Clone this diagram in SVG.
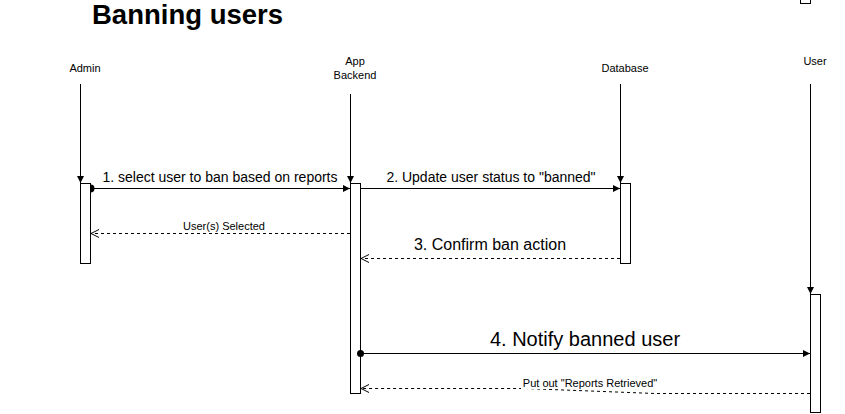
<svg xmlns="http://www.w3.org/2000/svg" width="845" height="414" viewBox="0 0 845 414">
<style>
text{font-family:"Liberation Sans",Arial,sans-serif;fill:#000}
.lbl{font-size:11px;text-anchor:middle}
.ln{stroke:#000;stroke-width:1;fill:none}
.dash{stroke:#000;stroke-width:1;fill:none;stroke-dasharray:3 3}
.act{fill:#fff;stroke:#000;stroke-width:1}
.bg{fill:#fff}
</style>
<defs>
<marker id="blk" markerWidth="8" markerHeight="8" refX="7" refY="4" orient="auto" markerUnits="userSpaceOnUse">
<path d="M0,0.5 L7,4 L0,7.5 Z" fill="#000"/>
</marker>
<marker id="open" markerWidth="10" markerHeight="10" refX="9" refY="5" orient="auto" markerUnits="userSpaceOnUse">
<path d="M1,1 L9,5 L1,9" fill="none" stroke="#000" stroke-width="1"/>
</marker>
<marker id="dot" markerWidth="8" markerHeight="8" refX="4" refY="4" markerUnits="userSpaceOnUse">
<circle cx="4" cy="4" r="3.5" fill="#000"/>
</marker>
</defs>
<rect width="845" height="414" fill="#fff"/>
<text x="92" y="24" style="font-size:27.5px;font-weight:bold">Banning users</text>
<rect x="800.5" y="-10" width="10" height="13.5" class="act"/>

<g id="admin">
<text x="85" y="72" class="lbl">Admin</text>
<rect x="80.5" y="183.5" width="10" height="80" class="act"/>
</g>
<g id="backend">
<text x="355" y="65" class="lbl">App</text>
<text x="355" y="79" class="lbl">Backend</text>
<rect x="350.5" y="183.5" width="10" height="210" class="act"/>
</g>
<g id="database">
<text x="625" y="72" class="lbl">Database</text>
<rect x="620.5" y="183.5" width="10" height="80" class="act"/>
</g>
<g id="user">
<text x="815" y="65" class="lbl">User</text>
<rect x="810.5" y="294.5" width="10" height="118" class="act"/>
</g>

<g id="connectors">
<path d="M80.5,84 V183" class="ln" marker-end="url(#blk)"/>
<path d="M350.5,94 V183" class="ln" marker-end="url(#blk)"/>
<path d="M620.5,84 V183" class="ln" marker-end="url(#blk)"/>
<path d="M810.5,84 V294" class="ln" marker-end="url(#blk)"/>

<path d="M90.5,188.5 H350" class="ln" marker-end="url(#blk)"/>
<path d="M90.5,184.5 A4,4 0 0 1 90.5,192.5 Z" fill="#000"/>
<text x="220" y="182" style="font-size:14px" text-anchor="middle">1. select user to ban based on reports</text>

<path d="M360.5,188.5 H620" class="ln" marker-end="url(#blk)"/>
<text x="491" y="182" style="font-size:14px" text-anchor="middle">2. Update user status to "banned"</text>

<path d="M350,233.5 H91" class="dash" marker-end="url(#open)"/>
<text x="224" y="230" style="font-size:11px" text-anchor="middle">User(s) Selected</text>

<path d="M620,258.5 H361" class="dash" marker-end="url(#open)"/>
<text x="490" y="250" style="font-size:16px" text-anchor="middle">3. Confirm ban action</text>

<path d="M360.5,353.5 H810" class="ln" marker-start="url(#dot)" marker-end="url(#blk)"/>
<text x="585" y="346" style="font-size:20px" text-anchor="middle">4. Notify banned user</text>

<path d="M810,393.5 L655,393.5 L525,388.5 L361,388.5" class="dash" marker-end="url(#open)"/>
<rect x="521" y="377" width="139" height="12" class="bg"/>
<text x="590" y="387" style="font-size:11px" text-anchor="middle">Put out "Reports Retrieved"</text>
</g>
</svg>
